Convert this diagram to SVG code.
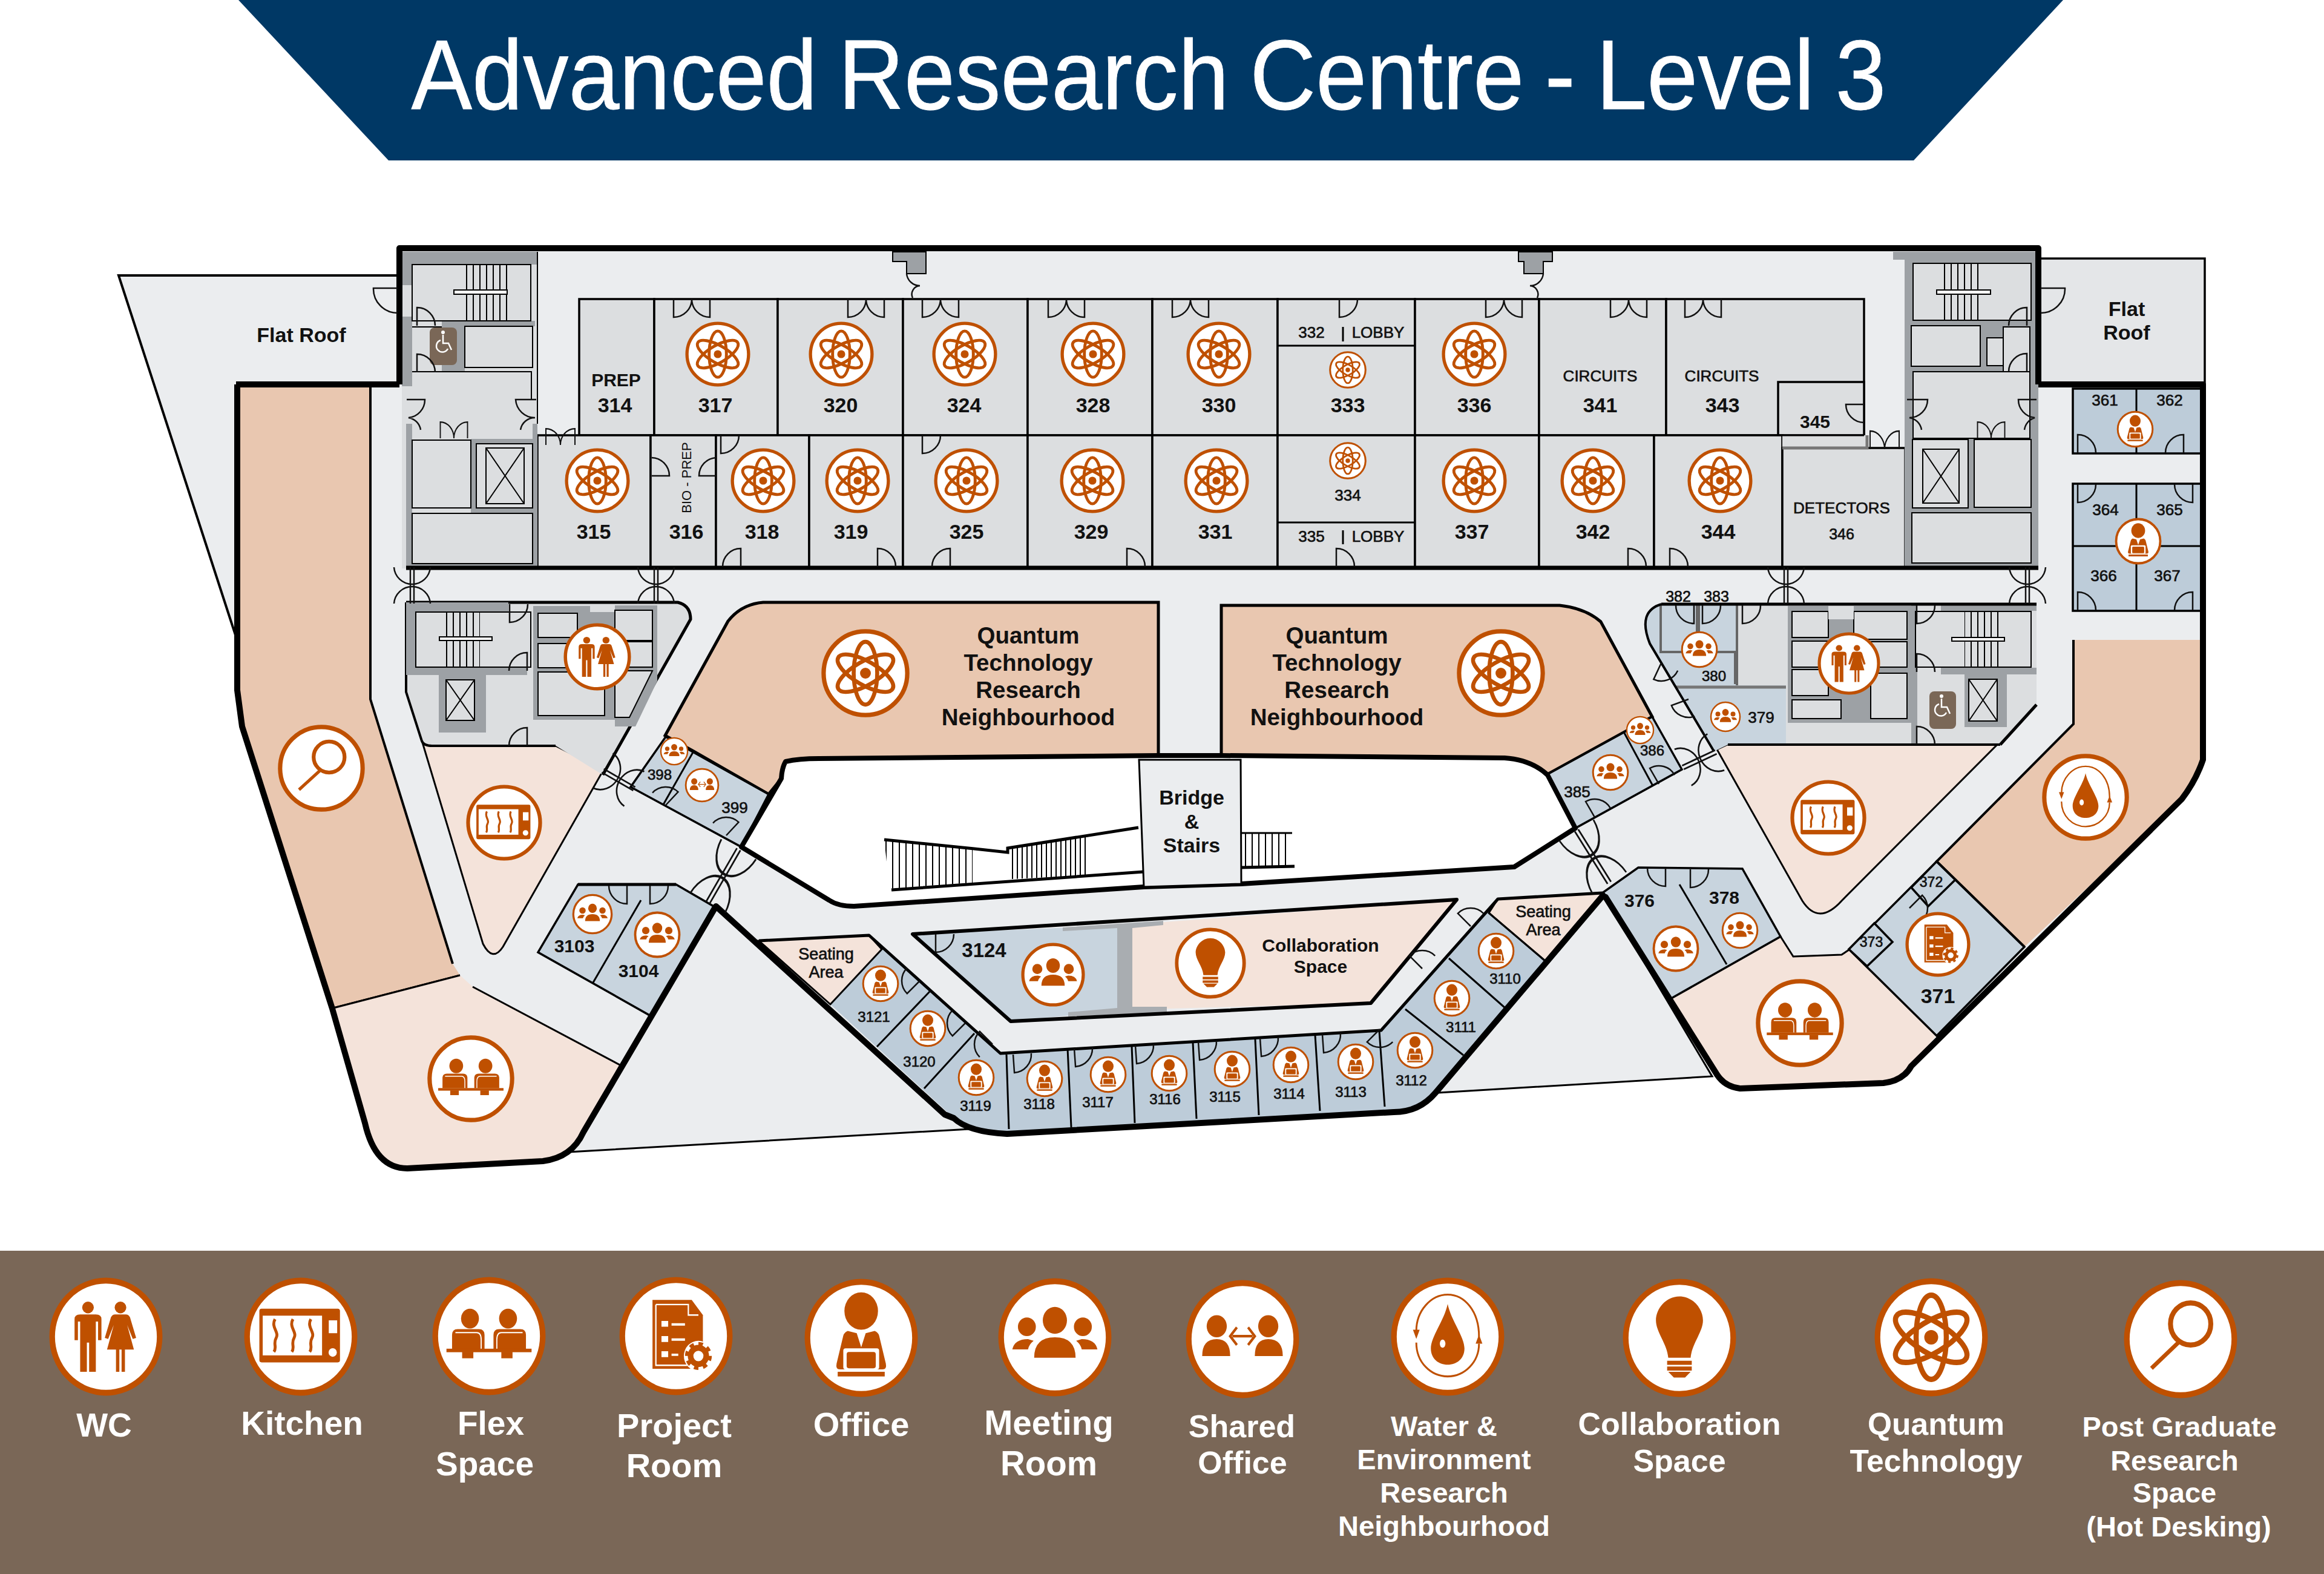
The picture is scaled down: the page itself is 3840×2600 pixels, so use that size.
<svg xmlns="http://www.w3.org/2000/svg" width="3840" height="2600" viewBox="0 0 3840 2600">
<style>
text{font-family:"Liberation Sans",Arial,sans-serif;font-weight:700;text-anchor:middle;fill:#111}
.m{font-weight:400;stroke:#111;stroke-width:.7}
.lg{fill:#fff}
.floor{fill:#ebedef}
.rm{fill:#dcdee0;stroke:#000;stroke-width:3.5}
.bl{fill:#c8d4de;stroke:#000;stroke-width:3.5}
.bd{fill:#bdccd9;stroke:#000;stroke-width:3.5}
.pk{fill:#e9c7b0;stroke:#000;stroke-width:4}
.lp{fill:#f4e3da;stroke:#000;stroke-width:4}
.wall{fill:#9da1a5}
.cr{fill:#dcdee0;stroke:#000;stroke-width:2}
.ln{fill:none;stroke:#000;stroke-width:3}
.th{fill:none;stroke:#000;stroke-width:10;stroke-linejoin:round}
.tm{fill:none;stroke:#000;stroke-width:7;stroke-linejoin:round}
.dr{fill:none;stroke:#111;stroke-width:2.5}
.ring{fill:#fff;stroke:#bf5000;stroke-width:5}
.o{fill:#bf5000}
.os{fill:none;stroke:#bf5000}
</style>
<defs>
<pattern id="st" width="11" height="40" patternUnits="userSpaceOnUse"><rect width="2" height="40" fill="#000"/></pattern>
<pattern id="st2" width="8" height="40" patternUnits="userSpaceOnUse"><rect width="2" height="40" fill="#000"/></pattern>
<path id="d" d="M0,0V30A30,30 0 0 0 30,0"/>
<path id="dd" d="M-30,0V30A30,30 0 0 0 0,0A30,30 0 0 0 30,30V0"/>
<path id="xd" d="M-30,-30A30,30 0 0 0 0,-2A30,30 0 0 0 30,-30M-30,30A30,30 0 0 1 0,2A30,30 0 0 1 30,30M-3,-30V30M3,-30V30"/>
<g id="atom"><circle r="48" class="ring"/><g class="os" stroke-width="4.6"><ellipse rx="13.5" ry="36"/><ellipse rx="13.5" ry="36" transform="rotate(60)"/><ellipse rx="13.5" ry="36" transform="rotate(-60)"/></g><circle r="6.2" class="o"/></g>
<g id="office"><circle r="48" class="ring"/><ellipse cy="-23" rx="15" ry="16" class="o"/><path class="o" d="M-12,-6L-4,-4L0,8L4,-4L12,-6Q15,-5 16,-2L22,22Q23,27 19,27H-19Q-23,27 -22,22L-16,-2Q-15,-5 -12,-6Z"/><rect x="-16" y="9" width="32" height="18" rx="2" fill="#fff"/><rect x="-13" y="12" width="26" height="14" rx="2" class="o"/><rect x="-21" y="29" width="42" height="4" class="o"/></g>
<g id="meet"><circle r="48" class="ring"/><ellipse cy="-14.5" rx="10.8" ry="11.5" class="o"/><ellipse cx="-25" cy="-9" rx="8" ry="8" class="o"/><ellipse cx="25" cy="-9" rx="8" ry="8" class="o"/><path class="o" d="M-18.5,17.5Q-18.5,0 0,0Q18.5,0 18.5,17.5ZM-38,10.3Q-36,1.5 -24,1.5L-19,3Q-23,6 -24,10.3ZM38,10.3Q36,1.5 24,1.5L19,3Q23,6 24,10.3Z"/></g>
<g id="shared"><circle r="48" class="ring"/><ellipse cx="-23" cy="-11" rx="9" ry="9.5" class="o"/><ellipse cx="23" cy="-11" rx="9" ry="9.5" class="o"/><path class="o" d="M-36,14.5Q-36,0 -23,0Q-11,0 -11,14.5ZM36,14.5Q36,0 23,0Q11,0 11,14.5Z"/><path class="os" stroke-width="2.2" d="M-5,-10L-11,-2.5L-5,5M5,-10L11,-2.5L5,5M-9,-2.5H9"/></g>
<g id="flex"><circle r="48" class="ring"/><ellipse cx="-17" cy="-15" rx="8" ry="8.5" class="o"/><ellipse cx="17" cy="-15" rx="8" ry="8.5" class="o"/><path class="o" d="M-33,-1Q-33,-6 -28,-6H-9Q-4,-6 -4,-1V11H-33ZM4,-1Q4,-6 9,-6H28Q33,-6 33,-1V11H4Z"/><path style="fill:none;stroke:#fff" stroke-width="1" d="M-30,-3H-11Q-7,-3 -7,3V12M7,12V3Q7,-3 11,-3H30"/><rect x="-38" y="10.8" width="76" height="3" class="o"/><rect x="-24" y="13.5" width="10" height="5.5" class="o"/><rect x="11" y="13.5" width="10" height="5.5" class="o"/></g>
<g id="kit"><circle r="48" class="ring"/><rect x="-37" y="-24" width="72" height="46" rx="2" class="o"/><rect x="-34" y="-18" width="53" height="34" fill="#fff"/><path class="os" stroke-width="2.6" d="M-23,-15C-27,-8 -19,-4 -22,1C-25,6 -21,9 -24,13M-7,-15C-11,-8 -3,-4 -6,1C-9,6 -5,9 -8,13M9,-15C5,-8 13,-4 10,1C7,6 11,9 8,13"/><rect x="25" y="-14" width="7.5" height="11" fill="#fff"/><circle cx="28.5" cy="13.5" r="3.7" fill="#fff"/></g>
<g id="wc"><circle r="48" class="ring"/><ellipse cx="-16" cy="-25" rx="5.2" ry="5" class="o"/><ellipse cx="13" cy="-25" rx="5.2" ry="5" class="o"/><path class="o" d="M-23,-19H-9Q-4,-19 -4,-15V3H-7V-13H-9V30H-15V5H-17V30H-23V-13H-25V3H-28V-15Q-28,-19 -23,-19Z"/><path class="o" d="M8,-19H18Q21,-19 22,-15L27,1L24,2L19,-10L25,11H17V30H14V11H12V30H9V11H1L7,-10L2,2L-1,1L4,-15Q5,-19 8,-19Z"/></g>
<g id="proj"><circle r="48" class="ring"/><path class="o" d="M-21,-31H14L24,-18V28H-21Z"/><path d="M-18,-27H11V-18H20M-18,-27V25H10" fill="none" stroke="#fff" stroke-width="1.2"/><path d="M-13,-13h6v5h-6zM-13,0h6v5h-6zM-13,13h6v5h-6zM-4,-11h12v2h-12zM-4,2h12v2h-12zM-4,15h6v2h-6z" fill="#fff"/><circle cx="20" cy="17" r="13" fill="#fff"/><circle cx="20" cy="17" r="7" class="os" stroke-width="5"/><circle cx="20" cy="17" r="10.5" class="os" stroke-width="3" stroke-dasharray="4 4.2"/></g>
<g id="water"><circle r="48" class="ring"/><path class="o" d="M0,-28C3,-14 15,0 15,10C15,19 8,24 0,24C-8,24 -15,19 -15,10C-15,0 -3,-14 0,-28Z"/><ellipse cx="-4.5" cy="6" rx="2.5" ry="3.5" fill="#fff"/><path class="os" stroke-width="1.6" d="M-28,-5C-28,-22 -15,-36 0,-36C15,-36 28,-22 28,0M28,6C28,22 15,34 0,34C-15,34 -28,22 -28,5"/><path class="o" d="M-31,-6H-25L-28,2ZM25,6H31L28,-2Z"/></g>
<g id="bulb"><circle r="48" class="ring"/><path class="o" d="M0,-35.5C12,-35.5 21,-25 21,-15C21,-5 11,5 10,17H-10C-11,5 -21,-5 -21,-15C-21,-25 -12,-35.5 0,-35.5ZM-11,19.5H11V23H-11ZM-11,24.5H11V28H-11ZM-10,29H10L5,34H-5Z"/></g>
<g id="mag"><circle r="48" class="ring"/><circle cx="9" cy="-13" r="18" class="os" stroke-width="4.4"/><path class="os" stroke-width="3.6" d="M-2,3L-26,25"/></g>
</defs>

<rect width="3840" height="2600" fill="#fff"/>

<g id="title"><polygon points="394,0 3409,0 3162,265 642,265" fill="#003865"/><text x="1898" y="180" font-size="164" word-spacing="-8" textLength="2437" lengthAdjust="spacingAndGlyphs" style="fill:#fff;font-weight:400;stroke:#fff;stroke-width:.8">Advanced Research Centre - Level 3</text></g>

<g id="roofs">
<polygon class="floor" points="196,455 657,455 657,632 392,632 390,1052" stroke="#000" stroke-width="4"/>
<rect class="rm" x="3368" y="427" width="275" height="208" style="fill:#e4e6e8" stroke-width="4"/>
<polygon class="floor" points="1183,1497 1561,1841 1602,1865 939,1903 964,1870" stroke="#000" stroke-width="3"/>
<polygon class="floor" points="2653,1482 2829,1778 2376,1805 2648,1480" stroke="#000" stroke-width="3"/>
</g>

<g id="floor"><path class="floor" d="M660,410H3368V635H3640V1255Q3628,1290 3605,1320L3158,1761Q3140,1785 3112,1789L2875,1798Q2850,1795 2837,1775L2653,1482L2372,1805Q2345,1837 2303,1837L1664,1873Q1600,1870 1576,1847L1183,1497L964,1870Q945,1912 897,1918L673,1930Q620,1930 603,1855L549,1666L400,1200L394,1140L392,635H660Z"/></g>

<g id="wings">
<polygon fill="#e9c7b0" points="396,640 612,640 612,1155 748,1592 760,1611 551,1665 400,1200 396,1140"/>
<path class="ln" d="M551,1665L760,1611"/>
<path fill="#f4e3da" d="M551,1665L760,1611L781,1630L1026,1760L964,1870Q945,1912 897,1918L673,1930Q620,1930 603,1855Z"/>
<path class="ln" d="M551,1665L760,1611M781,1630L1026,1760"/>
<path class="lp" style="stroke-width:3" d="M715,1232H918L997,1272L831,1564Q814,1590 798,1559L690,1200Z"/>
<path class="pk" style="stroke-width:5" d="M1261,995H1914V1248L1400,1255L1298,1258L1291,1286L1270,1312L1146,1241L1099,1215L1203,1026Q1225,998 1261,995Z"/>
<path class="pk" style="stroke-width:5" d="M2018,1000H2577Q2620,1005 2645,1027L2730,1184L2557,1279L2523,1260L2486,1252L2018,1248Z"/>
<path fill="#e9c7b0" d="M3426,1057H3637V1255Q3625,1290 3605,1320L3345,1564L3200,1423L3426,1196Z"/>
<path class="lp" style="stroke-width:3" d="M2854,1230H3300L3043,1488Q3005,1530 2978,1488L2837,1238Z"/>
<path fill="#f4e3da" d="M2942,1547L2963,1580L3043,1577L3055,1569L3200,1710L3158,1761Q3140,1785 3112,1789L2875,1798Q2850,1795 2837,1775L2760,1650Z"/>
<path class="ln" d="M2942,1547L2963,1580L3043,1577L3055,1569"/>
</g>

<g id="upper-block">
<rect class="rm" x="957" y="494" width="124" height="225"/>
<rect class="rm" x="1081" y="494" width="204" height="225"/>
<rect class="rm" x="1285" y="494" width="207" height="225"/>
<rect class="rm" x="1492" y="494" width="206" height="225"/>
<rect class="rm" x="1698" y="494" width="206" height="225"/>
<rect class="rm" x="1904" y="494" width="207" height="225"/>
<rect class="rm" x="2111" y="494" width="227" height="225"/>
<rect class="rm" x="2338" y="494" width="205" height="225"/>
<rect class="rm" x="2543" y="494" width="210" height="225"/>
<rect class="rm" x="2753" y="494" width="327" height="225"/>
<rect class="rm" x="2938" y="631" width="142" height="88"/>
<rect class="rm" x="888" y="719" width="187" height="219"/>
<rect class="rm" x="1075" y="719" width="108" height="219"/>
<rect class="rm" x="1183" y="719" width="154" height="219"/>
<rect class="rm" x="1337" y="719" width="155" height="219"/>
<rect class="rm" x="1492" y="719" width="206" height="219"/>
<rect class="rm" x="1698" y="719" width="206" height="219"/>
<rect class="rm" x="1904" y="719" width="207" height="219"/>
<rect class="rm" x="2111" y="719" width="227" height="219"/>
<rect class="rm" x="2338" y="719" width="205" height="219"/>
<rect class="rm" x="2543" y="719" width="190" height="219"/>
<rect class="rm" x="2733" y="719" width="212" height="219"/>
<path class="rm" d="M2945,740H3148V938H2945Z"/>
<path class="ln" d="M2111,571H2338M2111,863H2338M2219,540V564M2219,876V899"/>
<path d="M2945,719H3085V742H2945Z" fill="#dcdee0"/><path d="M2945,740H3085V719" fill="none" stroke="#777" stroke-width="5"/><path d="M2945,719H3080" stroke="#000" stroke-width="3"/>
</g>

<g id="core-upper-left">
<rect x="664" y="416" width="224" height="523" fill="#dcdee0"/>
<path class="wall" d="M664,416H888V437H681V471H664ZM664,523H681V638H664ZM730,530H884V539H768V615H730ZM671,700H681V938H671ZM772,725H888V733H788V839H888V848H778V725ZM880,700H888V938H880ZM681,931H880V938H681Z"/>
<path d="M888,416V700" class="ln" style="stroke-width:2"/>
<rect class="cr" x="681" y="437" width="196" height="93"/><rect x="762" y="437" width="76" height="93" fill="url(#st)"/><rect class="cr" x="750" y="479" width="88" height="7" style="fill:#fff"/>
<rect class="cr" x="768" y="539" width="112" height="68"/>
<rect class="cr" x="681" y="614" width="197" height="96" style="stroke:none"/>
<path class="ln" style="stroke-width:2" d="M681,614H878V660M681,540H730M681,727H772"/>
<rect class="cr" x="681" y="727" width="97" height="112"/>
<rect class="cr" x="787" y="733" width="93" height="106"/>
<path class="ln" style="stroke-width:2" d="M803,740H866V832H803ZM803,740L866,832M866,740L803,832"/>
<rect class="cr" x="681" y="848" width="199" height="83"/>
<rect x="710" y="541" width="45" height="62" rx="8" fill="#7a6757"/>
<path d="M732,553v14h9l5,11M728,562a10,10 0 1 0 12,14" fill="none" stroke="#fff" stroke-width="2.5"/><circle cx="732" cy="549" r="3" fill="#fff"/>
</g>

<g id="core-upper-right">
<rect class="wall" x="3128" y="416" width="240" height="13"/>
<rect class="wall" x="3147" y="416" width="221" height="523"/>
<rect class="cr" x="3161" y="435" width="195" height="94"/><rect x="3211" y="435" width="66" height="94" fill="url(#st)"/><rect class="cr" x="3200" y="479" width="89" height="7" style="fill:#fff"/>
<rect class="cr" x="3158" y="538" width="114" height="67"/>
<rect class="cr" x="3310" y="540" width="44" height="74"/>
<rect class="cr" x="3283" y="558" width="27" height="46"/>
<rect class="cr" x="3161" y="614" width="193" height="110"/>
<rect class="cr" x="3160" y="726" width="92" height="113"/>
<path class="ln" style="stroke-width:2" d="M3177,742H3237V831H3177ZM3177,742L3237,831M3237,742L3177,831"/>
<rect class="cr" x="3262" y="726" width="94" height="112"/>
<rect class="cr" x="3159" y="847" width="197" height="83"/>
</g>

<g id="core-lower-left">
<path d="M671,995H1120Q1141,1000 1141,1023L996,1280L917,1231H714Q700,1230 697,1224L671,1143Z" fill="#dcdee0"/>
<path d="M671,995H1120Q1141,1000 1141,1023L996,1280" class="tm" style="stroke-width:5"/>
<path d="M671,995V1143L697,1224Q700,1232 714,1232H918" class="ln" style="stroke-width:4"/>
<path class="wall" d="M671,995H840V1011H687V1102H871V1115H803V1210H725V1115H671Z"/>
<rect class="cr" x="687" y="1011" width="190" height="91"/><rect x="737" y="1011" width="56" height="91" fill="url(#st)"/><rect class="cr" x="726" y="1052" width="87" height="6" style="fill:#fff"/>
<rect class="wall" x="725" y="1115" width="78" height="95"/><path class="ln" style="stroke-width:2;fill:#dcdee0" d="M737,1123H784V1190H737ZM737,1123L784,1190M784,1123L737,1190"/>
<path class="wall" d="M881,1001H975V1011H1016V1189H881Z"/>
<rect class="cr" x="889" y="1013" width="65" height="40"/><rect class="cr" x="889" y="1063" width="65" height="40"/><rect class="cr" x="889" y="1110" width="110" height="72"/>
<path class="wall" d="M1016,1000H1086V1125L1050,1200H1016Z"/>
<rect class="cr" x="1016" y="1008" width="62" height="50"/><rect class="cr" x="1016" y="1060" width="62" height="42"/><path class="cr" d="M1016,1108H1078L1040,1185H1016Z"/>
</g>

<g id="core-lower-right">
<path d="M2745,998H3365V1164L3305,1230H2855L2832,1241L2726,1063Q2705,1010 2745,998Z" fill="#dcdee0"/>
<path d="M2745,998Q2705,1010 2726,1063L2832,1241L2854,1230H2951V998Z" fill="#c8d4de"/>
<rect x="2870" y="998" width="81" height="134" fill="#dcdee0"/>
<path d="M2768,1135H2951" stroke="#777" stroke-width="5"/>
<path d="M2744,1000V1077H2804V1000M2807,1000V1077H2867V1130M2870,998V1132" fill="none" stroke="#666" stroke-width="4"/>
<path class="wall" d="M2954,1001H3158V1194H2954Z"/>
<rect class="cr" x="2961" y="1010" width="60" height="43"/><rect class="cr" x="2961" y="1059" width="60" height="43"/><rect class="cr" x="2961" y="1106" width="60" height="43"/><rect class="cr" x="2961" y="1156" width="81" height="31"/>
<rect class="cr" x="3063" y="1010" width="88" height="46"/><rect class="cr" x="3091" y="1060" width="60" height="42"/><rect class="cr" x="3091" y="1112" width="60" height="75"/>
<rect x="3021" y="1001" width="42" height="22" fill="#dcdee0"/>
<path class="wall" d="M3158,1000H3365V1009H3207V1000ZM3158,1000H3168V1230H3158ZM3207,1103H3365V1114H3316V1201H3246V1114H3207Z"/>
<rect class="cr" x="3165" y="1010" width="191" height="92"/><rect x="3246" y="1010" width="56" height="92" fill="url(#st)"/><rect class="cr" x="3225" y="1053" width="87" height="6" style="fill:#fff"/>
<path class="ln" style="stroke-width:2;fill:#dcdee0" d="M3253,1122H3300V1191H3253ZM3253,1122L3300,1191M3300,1122L3253,1191"/>
<rect x="3188" y="1142" width="44" height="62" rx="8" fill="#7a6757"/>
<path d="M3208,1154v14h9l5,11M3204,1163a10,10 0 1 0 12,14" fill="none" stroke="#fff" stroke-width="2.5"/><circle cx="3208" cy="1150" r="3" fill="#fff"/>
<path d="M3305,1230H2855" class="ln" style="stroke-width:4"/><path d="M3365,1164L3305,1230M2745,998H3365" class="tm" style="stroke-width:5"/>
<path d="M2745,998Q2705,1010 2726,1063L2832,1241" class="ln" style="stroke-width:4"/>
</g>

<g id="rooms-right">
<rect class="bd" x="3425" y="642" width="212" height="107"/><path class="ln" d="M3530,642V749"/>
<rect class="bd" x="3425" y="799" width="212" height="210"/><path class="ln" d="M3530,799V1009M3425,902H3637"/>
<polygon class="bl" points="3200,1423 3345,1564 3200,1711 3055,1568"/>
<polygon class="bl" points="3200,1423 3231,1453 3186,1497 3158,1466"/>
<polygon class="bl" points="3097,1525 3127,1556 3085,1596 3055,1568"/>
<polygon class="bl" points="2707,1433 2879,1435 2942,1547 2760,1650 2649,1474"/><path class="ln" d="M2775,1461L2853,1593"/>
<polygon class="bl" points="2730,1184 2779,1271 2603,1368 2557,1279"/><path class="ln" d="M2684,1211L2731,1298"/>
</g>
<g id="rooms-left">
<polygon class="bl" points="1100,1217 1270,1312 1225,1399 1042,1300"/><path class="ln" d="M1146,1241L1096,1329"/>
<polygon class="bl" points="955,1461 1117,1461 1179,1497 1075,1678 889,1573"/><path class="ln" d="M1059,1487L980,1623"/>
<path class="tm" style="stroke-width:5" d="M955,1461H1117"/>
</g>
<g id="pod">
<path fill="#bdccd9" d="M1436,1545L1653,1740L2282,1702L2475,1485L2554,1588L2372,1805Q2345,1837 2303,1837L1664,1873Q1600,1870 1576,1847L1372,1659Z"/>
<polygon class="lp" style="stroke-width:3" points="1254,1554 1436,1545 1457,1568 1372,1659"/>
<polygon class="lp" style="stroke-width:3" points="2475,1485 2648,1475 2554,1588 2460,1508"/>
<path class="ln" d="M1536,1638L1449,1729M1610,1707L1527,1798M1663,1742L1667,1865M1764,1732L1770,1862M1870,1728L1875,1855M1971,1722L1977,1848M2074,1717L2080,1842M2173,1710L2181,1835M2279,1703L2288,1828M2322,1667L2418,1743M2394,1583L2487,1665M2460,1508L2554,1588"/>
<path class="tm" style="stroke-width:5" d="M1254,1554L1436,1545L1653,1740L2282,1702L2475,1485L2648,1475"/>
<polygon fill="#c8d4de" points="1508,1543 1860,1528 1860,1668 1670,1687"/>
<polygon fill="#f4e3da" points="1860,1528 2407,1486 2265,1657 1860,1668"/>
<path style="fill:#a9adb1" d="M1756,1532L1922,1521V1528L1871,1533V1663L1928,1663V1672L1765,1679V1672L1846,1665V1533L1756,1538Z"/>
<path class="tm" style="stroke-width:6" d="M1508,1543L2407,1486L2265,1657L1670,1687Z"/>
</g>

<g id="void">
<path d="M1298,1258Q1320,1253 1353,1253L1914,1248H2018L2486,1252Q2530,1255 2557,1280L2603,1368L2502,1432L2051,1460L1890,1465L1411,1497Q1385,1497 1370,1487L1225,1399L1291,1286Q1292,1268 1298,1258Z" fill="#fff" stroke="#000" stroke-width="8" stroke-linejoin="round"/>
<polygon points="1461,1387 1607,1402 1607,1458 1470,1468" fill="url(#st)"/>
<polygon points="1672,1402 1798,1380 1798,1446 1672,1452" fill="url(#st2)"/>
<path class="ln" style="stroke-width:5" d="M1461,1387L1610,1402L1665,1408L1665,1401L1881,1367M1473,1470L1890,1440"/>
<polygon points="2051,1376 2130,1376 2130,1431 2051,1433" fill="url(#st)"/>
<path class="ln" d="M2051,1376H2135"/><path class="ln" style="stroke-width:5" d="M2051,1433L2139,1431"/>
<polygon points="1882,1255 2050,1255 2051,1460 1890,1465" class="floor" stroke="#000" stroke-width="3"/>
</g>

<g id="outline">
<path class="th" d="M660,635V410H3368V635"/>
<path class="th" d="M392,635H660M392,635V1140L400,1200L549,1666L603,1855Q620,1930 673,1930L897,1918Q945,1912 964,1870L1183,1497L1561,1841L1576,1847Q1600,1870 1664,1873L2303,1837Q2345,1837 2372,1805L2648,1480L2653,1482L2837,1775Q2850,1795 2875,1798L3112,1789Q3145,1785 3158,1761L3605,1320Q3628,1290 3640,1255V635H3368"/>
<path class="tm" d="M671,938H3368"/>
<path class="ln" style="stroke-width:4" d="M3426,1057V1196L3200,1423L3345,1564M612,640V1155L748,1592"/>
</g>

<g id="doors" class="dr">
<use href="#dd" x="1143" y="494"/><use href="#dd" x="1431" y="494"/><use href="#dd" x="1554" y="494"/><use href="#dd" x="1762" y="494"/><use href="#dd" x="1967" y="494"/><use href="#dd" x="2485" y="494"/><use href="#dd" x="2691" y="494"/><use href="#dd" x="2814" y="494"/>
<use href="#d" x="2213" y="494"/>
<use href="#d" transform="translate(1224,936) scale(-1,-1)"/><use href="#d" transform="translate(1450,936) scale(1,-1)"/><use href="#d" transform="translate(1570,936) scale(-1,-1)"/><use href="#d" transform="translate(1862,936) scale(1,-1)"/><use href="#d" transform="translate(2208,936) scale(1,-1)"/><use href="#d" transform="translate(2690,936) scale(1,-1)"/><use href="#d" transform="translate(2759,936) scale(1,-1)"/>
<use href="#d" x="1524" y="719"/><use href="#d" x="1191" y="719"/>
<path d="M1077,756A30,30 0 0 1 1106,786H1077M1183,756A30,30 0 0 0 1155,786H1183M3080,668H3050A30,30 0 0 0 3080,698M657,476H617A40,40 0 0 0 657,517M3372,476H3412A40,40 0 0 1 3372,517"/>
<path d="M672,660H702A30,30 0 0 1 675,690A24,24 0 0 1 695,710M886,660H852A32,32 0 0 0 884,690A24,24 0 0 0 860,710M3151,660H3185A30,30 0 0 1 3155,690A24,24 0 0 1 3175,710M3365,660H3335A30,30 0 0 0 3362,690A24,24 0 0 0 3345,710"/>
<use href="#dd" transform="translate(750,724) scale(.75,-.9)"/><use href="#dd" transform="translate(926,735) scale(.8,-.9)"/><use href="#dd" transform="translate(3114,742) scale(.8,-1)"/><use href="#dd" transform="translate(3290,724) scale(.75,-.9)"/>
<use href="#d" transform="translate(689,538) scale(1,-1)"/><use href="#d" transform="translate(689,615) scale(1,-1)"/><use href="#d" transform="translate(3349,538) scale(-1,-1)"/><use href="#d" transform="translate(3349,614) scale(-1,-1)"/>
<use href="#d" x="842" y="998"/><use href="#d" transform="translate(871,1108) scale(-1,-1)"/><use href="#d" transform="translate(871,1232) scale(-1,-1)"/>
<use href="#d" x="3167" y="1000"/><use href="#d" transform="translate(3167,1110) scale(1,-1)"/><use href="#d" transform="translate(3167,1230) scale(1,-1)"/><use href="#d" x="2879" y="1000"/><use href="#d" transform="translate(2799,1000) scale(-1,1)"/><use href="#d" x="2813" y="1000"/>
<use href="#d" transform="translate(1036,1463) scale(-1,1)"/><use href="#d" x="1074" y="1463"/><use href="#d" transform="translate(2752,1434) scale(-1,1)"/><use href="#d" x="2793" y="1436"/>
<use href="#d" transform="translate(3433,748) scale(1,-1)"/><use href="#d" transform="translate(3608,748) scale(-1,-1)"/><use href="#d" x="3433" y="800"/><use href="#d" transform="translate(3623,800) scale(-1,1)"/><use href="#d" transform="translate(3433,1008) scale(1,-1)"/><use href="#d" transform="translate(3623,1008) scale(-1,-1)"/>
<use href="#d" transform="translate(1674,1742) rotate(-4)"/><use href="#d" transform="translate(1775,1732) rotate(-4)"/><use href="#d" transform="translate(1876,1727) rotate(-4)"/><use href="#d" transform="translate(1980,1721) rotate(-4)"/><use href="#d" transform="translate(2082,1715) rotate(-4)"/><use href="#d" transform="translate(2185,1709) rotate(-4)"/><use href="#d" x="1546" y="1543"/>
<use href="#d" transform="translate(1200,1380) rotate(-137)"/><use href="#d" transform="translate(1100,1330) rotate(-137)"/><use href="#d" transform="translate(2635,1350) rotate(-30) scale(1,-1)"/><use href="#d" transform="translate(2741,1295) rotate(-30) scale(1,-1)"/>
<use href="#d" transform="translate(2350,1600) rotate(-45) scale(1,-1)"/><use href="#d" transform="translate(2430,1530) rotate(-45) scale(1,-1)"/><use href="#d" transform="translate(2280,1700) rotate(45)"/><use href="#d" transform="translate(1520,1620) rotate(45) scale(-1,1)"/><use href="#d" transform="translate(1595,1690) rotate(45) scale(-1,1)"/><use href="#d" transform="translate(1640,1725) rotate(135)"/>
<use href="#d" transform="translate(3155,1500) rotate(-135) scale(-1,1)"/><use href="#d" transform="translate(2790,1155) rotate(70)"/><use href="#d" transform="translate(2745,1095) rotate(25)"/>
<use href="#xd" x="681" y="967"/><use href="#xd" x="1084" y="967"/><use href="#xd" x="2951" y="967"/><use href="#xd" x="3350" y="967"/>
<use href="#xd" transform="translate(1195,1447) rotate(30) scale(1.1,1.7)"/><use href="#xd" transform="translate(1022,1288) rotate(-60) scale(1.1,1)"/><use href="#xd" transform="translate(2808,1255) rotate(65) scale(1.1,1)"/><use href="#xd" transform="translate(2632,1415) rotate(-32) scale(1.1,1.7)"/>
<path d="M1475,416H1530V452H1498V432H1475Z M2509,416H2565V432H2550V452H2518V432H2509Z" fill="#9da1a5" stroke="#000" stroke-width="2"/>
<path d="M1498,452A22,22 0 0 0 1520,472A14,14 0 0 0 1508,492M2550,452A22,22 0 0 1 2528,472A14,14 0 0 1 2540,492"/>
</g>

<g id="nodes">
<g id="n314"><text x="1018" y="638" font-size="30">PREP</text><text x="1016" y="681" font-size="34">314</text></g>
<g id="n317"><use href="#atom" transform="translate(1186,585) scale(1.06)"/><text x="1182" y="681" font-size="34">317</text></g>
<g id="n320"><use href="#atom" transform="translate(1390,585) scale(1.06)"/><text x="1389" y="681" font-size="34">320</text></g>
<g id="n324"><use href="#atom" transform="translate(1594,585) scale(1.06)"/><text x="1593" y="681" font-size="34">324</text></g>
<g id="n328"><use href="#atom" transform="translate(1806,585) scale(1.06)"/><text x="1806" y="681" font-size="34">328</text></g>
<g id="n330"><use href="#atom" transform="translate(2014,585) scale(1.06)"/><text x="2014" y="681" font-size="34">330</text></g>
<g id="n332"><text class="m" x="2167" y="558" font-size="26">332</text><text class="m" x="2277" y="558" font-size="26">LOBBY</text></g>
<g id="n333"><use href="#atom" transform="translate(2227,611) scale(.61)"/><text x="2227" y="681" font-size="34">333</text></g>
<g id="n336"><use href="#atom" transform="translate(2436,585) scale(1.06)"/><text x="2436" y="681" font-size="34">336</text></g>
<g id="n341"><text class="m" x="2644" y="630" font-size="26">CIRCUITS</text><text x="2644" y="681" font-size="34">341</text></g>
<g id="n343"><text class="m" x="2845" y="630" font-size="26">CIRCUITS</text><text x="2846" y="681" font-size="34">343</text></g>
<g id="n345"><text x="2999" y="707" font-size="30">345</text></g>
<g id="n315"><use href="#atom" transform="translate(987,794) scale(1.06)"/><text x="981" y="890" font-size="34">315</text></g>
<g id="n316"><text x="1134" y="890" font-size="34">316</text><text transform="translate(1142,789) rotate(-90)" font-size="22" style="font-weight:400">BIO - PREP</text></g>
<g id="n318"><use href="#atom" transform="translate(1261,794) scale(1.06)"/><text x="1259" y="890" font-size="34">318</text></g>
<g id="n319"><use href="#atom" transform="translate(1417,794) scale(1.06)"/><text x="1406" y="890" font-size="34">319</text></g>
<g id="n325"><use href="#atom" transform="translate(1597,794) scale(1.06)"/><text x="1597" y="890" font-size="34">325</text></g>
<g id="n329"><use href="#atom" transform="translate(1805,794) scale(1.06)"/><text x="1803" y="890" font-size="34">329</text></g>
<g id="n331"><use href="#atom" transform="translate(2010,794) scale(1.06)"/><text x="2008" y="890" font-size="34">331</text></g>
<g id="n334"><use href="#atom" transform="translate(2227,761) scale(.61)"/><text class="m" x="2227" y="827" font-size="26">334</text></g>
<g id="n335"><text class="m" x="2167" y="895" font-size="26">335</text><text class="m" x="2277" y="895" font-size="26">LOBBY</text></g>
<g id="n337"><use href="#atom" transform="translate(2436,794) scale(1.06)"/><text x="2432" y="890" font-size="34">337</text></g>
<g id="n342"><use href="#atom" transform="translate(2632,794) scale(1.06)"/><text x="2632" y="890" font-size="34">342</text></g>
<g id="n344"><use href="#atom" transform="translate(2842,794) scale(1.06)"/><text x="2839" y="890" font-size="34">344</text></g>
<g id="n346"><text class="m" x="3043" y="848" font-size="26">DETECTORS</text><text class="m" x="3043" y="891" font-size="25">346</text></g>
<g id="roof-left"><text x="498" y="565" font-size="34">Flat Roof</text></g>
<g id="roof-right"><text x="3514" y="522" font-size="34">Flat</text><text x="3514" y="561" font-size="34">Roof</text></g>
<g id="n361"><use href="#office" transform="translate(3528,709) scale(.6)"/><text class="m" x="3478" y="670" font-size="26">361</text><text class="m" x="3585" y="670" font-size="26">362</text></g>
<g id="n364"><use href="#office" transform="translate(3533,894) scale(.76)"/><text class="m" x="3479" y="851" font-size="26">364</text><text class="m" x="3585" y="851" font-size="26">365</text><text class="m" x="3476" y="960" font-size="26">366</text><text class="m" x="3581" y="960" font-size="26">367</text></g>
<g id="wc-left"><use href="#wc" transform="translate(987,1085) scale(1.1)"/></g>
<g id="wc-right"><use href="#wc" transform="translate(3055,1096) scale(1.02)"/></g>
<g id="n382"><text class="m" x="2773" y="994" font-size="25">382</text><text class="m" x="2836" y="994" font-size="25">383</text></g>
<g id="n380"><use href="#meet" transform="translate(2808,1073) scale(.6)"/><text class="m" x="2832" y="1125" font-size="24">380</text></g>
<g id="n379"><use href="#meet" transform="translate(2851,1184) scale(.5)"/><text class="m" x="2910" y="1194" font-size="26">379</text></g>
<g id="qt-left"><use href="#atom" transform="translate(1430,1112) scale(1.44)"/><text x="1699" y="1063" font-size="38.5">Quantum</text><text x="1699" y="1108" font-size="38.5">Technology</text><text x="1699" y="1153" font-size="38.5">Research</text><text x="1699" y="1198" font-size="38.5">Neighbourhood</text></g>
<g id="qt-right"><use href="#atom" transform="translate(2480,1112) scale(1.44)"/><text x="2209" y="1063" font-size="38.5">Quantum</text><text x="2209" y="1108" font-size="38.5">Technology</text><text x="2209" y="1153" font-size="38.5">Research</text><text x="2209" y="1198" font-size="38.5">Neighbourhood</text></g>
<g id="bridge"><text x="1969" y="1329" font-size="34">Bridge</text><text x="1969" y="1369" font-size="34">&amp;</text><text x="1969" y="1408" font-size="34">Stairs</text></g>
<g id="hotdesk"><use href="#mag" transform="translate(531,1269) scale(1.42)"/></g>
<g id="flex-left"><use href="#flex" transform="translate(778,1782) scale(1.42)"/></g>
<g id="kitchen-left"><use href="#kit" transform="translate(833,1359) scale(1.24)"/></g>
<g id="kitchen-right"><use href="#kit" transform="translate(3021,1351) scale(1.24)"/></g>
<g id="flex-right"><use href="#flex" transform="translate(2974,1690) scale(1.44)"/></g>
<g id="water-res"><use href="#water" transform="translate(3446,1317) scale(1.42)"/></g>
<g id="n371"><use href="#proj" transform="translate(3202,1560) scale(1.06)"/><text x="3202" y="1657" font-size="34">371</text></g>
<g id="n372"><text class="m" x="3191" y="1465" font-size="23">372</text></g>
<g id="n373"><text class="m" x="3092" y="1564" font-size="23">373</text></g>
<g id="n376"><use href="#meet" transform="translate(2769,1567) scale(.76)"/><text x="2709" y="1498" font-size="30">376</text></g>
<g id="n378"><use href="#meet" transform="translate(2875,1537) scale(.6)"/><text x="2849" y="1493" font-size="30">378</text></g>
<g id="n385"><use href="#meet" transform="translate(2661,1276) scale(.6)"/><text class="m" x="2606" y="1317" font-size="26">385</text></g>
<g id="n386"><use href="#meet" transform="translate(2710,1206) scale(.46)"/><text class="m" x="2730" y="1248" font-size="24">386</text></g>
<g id="n398"><use href="#meet" transform="translate(1114,1241) scale(.46)"/><text class="m" x="1090" y="1288" font-size="24">398</text></g>
<g id="n399"><use href="#shared" transform="translate(1160,1297) scale(.56)"/><text class="m" x="1214" y="1343" font-size="26">399</text></g>
<g id="n3103"><use href="#meet" transform="translate(979,1510) scale(.66)"/><text x="949" y="1573" font-size="30">3103</text></g>
<g id="n3104"><use href="#meet" transform="translate(1086,1544) scale(.76)"/><text x="1055" y="1614" font-size="30">3104</text></g>
<g id="n3124"><use href="#meet" transform="translate(1740,1610) scale(1.04)"/><text x="1626" y="1581" font-size="33">3124</text></g>
<g id="collab"><use href="#bulb" transform="translate(2000,1591) scale(1.16)"/><text x="2182" y="1572" font-size="30">Collaboration</text><text x="2182" y="1607" font-size="30">Space</text></g>
<g id="seat-l"><text class="m" x="1365" y="1585" font-size="27">Seating</text><text class="m" x="1365" y="1615" font-size="27">Area</text></g>
<g id="seat-r"><text class="m" x="2550" y="1515" font-size="27">Seating</text><text class="m" x="2550" y="1545" font-size="27">Area</text></g>
<g id="n3121"><use href="#office" transform="translate(1455,1625) scale(.6)"/><text class="m" x="1444" y="1688" font-size="24">3121</text></g>
<g id="n3120"><use href="#office" transform="translate(1533,1699) scale(.6)"/><text class="m" x="1519" y="1762" font-size="24">3120</text></g>
<g id="n3119"><use href="#office" transform="translate(1613,1780) scale(.6)"/><text class="m" x="1612" y="1835" font-size="24">3119</text></g>
<g id="n3118"><use href="#office" transform="translate(1726,1782) scale(.6)"/><text class="m" x="1717" y="1832" font-size="24">3118</text></g>
<g id="n3117"><use href="#office" transform="translate(1831,1775) scale(.6)"/><text class="m" x="1814" y="1829" font-size="24">3117</text></g>
<g id="n3116"><use href="#office" transform="translate(1932,1773) scale(.6)"/><text class="m" x="1925" y="1824" font-size="24">3116</text></g>
<g id="n3115"><use href="#office" transform="translate(2036,1766) scale(.6)"/><text class="m" x="2024" y="1820" font-size="24">3115</text></g>
<g id="n3114"><use href="#office" transform="translate(2133,1759) scale(.6)"/><text class="m" x="2130" y="1815" font-size="24">3114</text></g>
<g id="n3113"><use href="#office" transform="translate(2240,1754) scale(.6)"/><text class="m" x="2232" y="1812" font-size="24">3113</text></g>
<g id="n3112"><use href="#office" transform="translate(2338,1735) scale(.6)"/><text class="m" x="2332" y="1793" font-size="24">3112</text></g>
<g id="n3111"><use href="#office" transform="translate(2399,1649) scale(.6)"/><text class="m" x="2414" y="1705" font-size="24">3111</text></g>
<g id="n3110"><use href="#office" transform="translate(2472,1571) scale(.6)"/><text class="m" x="2487" y="1625" font-size="24">3110</text></g>
</g>

<g id="legend">
<rect y="2066" width="3840" height="534" fill="#7a6757"/>
<g id="lg-wc"><use href="#wc" transform="translate(175,2208) scale(1.85,1.93)"/><text class="lg" x="172" y="2373" font-size="55">WC</text></g>
<g id="lg-kitchen"><use href="#kit" transform="translate(497,2208) scale(1.85,1.93)"/><text class="lg" x="499" y="2370" font-size="55">Kitchen</text></g>
<g id="lg-flex"><use href="#flex" transform="translate(808,2207) scale(1.85,1.93)"/><text class="lg" x="811" y="2370" font-size="55">Flex</text><text class="lg" x="801" y="2437" font-size="55">Space</text></g>
<g id="lg-project"><use href="#proj" transform="translate(1117,2207) scale(1.85,1.93)"/><text class="lg" x="1114" y="2374" font-size="56">Project</text><text class="lg" x="1114" y="2440" font-size="56">Room</text></g>
<g id="lg-office"><use href="#office" transform="translate(1423,2210) scale(1.85,1.93)"/><text class="lg" x="1423" y="2372" font-size="56">Office</text></g>
<g id="lg-meeting"><use href="#meet" transform="translate(1743,2209) scale(1.85,1.93)"/><text class="lg" x="1733" y="2370" font-size="56.5">Meeting</text><text class="lg" x="1733" y="2437" font-size="56.5">Room</text></g>
<g id="lg-shared"><use href="#shared" transform="translate(2053,2212) scale(1.85,1.93)"/><text class="lg" x="2052" y="2374" font-size="52">Shared</text><text class="lg" x="2053" y="2434" font-size="52">Office</text></g>
<g id="lg-water"><use href="#water" transform="translate(2392,2208) scale(1.85,1.93)"/><text class="lg" x="2386" y="2372" font-size="47">Water &amp;</text><text class="lg" x="2386" y="2427" font-size="47">Environment</text><text class="lg" x="2386" y="2482" font-size="47">Research</text><text class="lg" x="2386" y="2537" font-size="47">Neighbourhood</text></g>
<g id="lg-collab"><use href="#bulb" transform="translate(2775,2210) scale(1.85,1.93)"/><text class="lg" x="2775" y="2370" font-size="52">Collaboration</text><text class="lg" x="2775" y="2431" font-size="52">Space</text></g>
<g id="lg-quantum"><use href="#atom" transform="translate(3191,2209) scale(1.85,1.93)"/><text class="lg" x="3199" y="2370" font-size="51.5">Quantum</text><text class="lg" x="3199" y="2431" font-size="51.5">Technology</text></g>
<g id="lg-hot"><use href="#mag" transform="translate(3603,2212) scale(1.85,1.93)"/><text class="lg" x="3601" y="2373" font-size="47">Post Graduate</text><text class="lg" x="3593" y="2429" font-size="47">Research</text><text class="lg" x="3593" y="2482" font-size="47">Space</text><text class="lg" x="3600" y="2538" font-size="47">(Hot Desking)</text></g>
</g>
</svg>
